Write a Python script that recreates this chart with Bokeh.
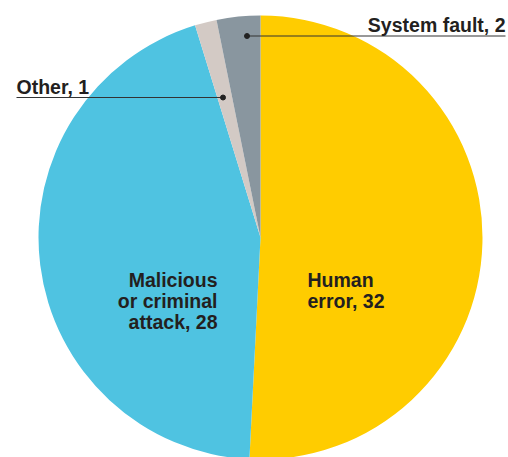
import math
from bokeh.plotting import figure
from bokeh.models import Range1d, ColumnDataSource
from bokeh.core.properties import value
from bokeh.embed import file_html
from bokeh.resources import INLINE

categories = ["Human error", "Malicious or criminal attack", "Other", "System fault"]
counts = [32, 28, 1, 2]
colors = ["#FFCC00", "#4FC3E1", "#D3CAC5", "#89969F"]

# figure maps data coordinates to page pixels (y negative downward)
W, H = 508, 457
p = figure(width=W, height=H, output_backend="svg", toolbar_location=None,
           x_range=Range1d(0, W), y_range=Range1d(-H, 0),
           min_border=0, outline_line_color=None)
p.axis.visible = False
p.grid.visible = False
p.background_fill_color = "white"
p.border_fill_color = "white"

cx, cy, r = 260, -237, 222
total = sum(counts)
starts, ends = [], []
a = math.pi / 2
for c in counts:
    sweep = 2 * math.pi * c / total
    starts.append(a)
    ends.append(a - sweep)
    a -= sweep

src = ColumnDataSource(dict(cat=categories, start=starts, end=ends, color=colors))
p.wedge(x=cx, y=cy, radius=r, start_angle="start", end_angle="end",
        direction="clock", fill_color="color", line_color=None, source=src)

font = value("Liberation Sans")
txt = "#231F20"

# Leader lines for small slices
p.segment(x0=[246.5, 16], y0=[-35.5, -97], x1=[505, 222.5], y1=[-35.5, -97],
          line_color="#333333", line_width=1.2)
p.scatter(x=[246.5, 222.5], y=[-35.5, -97], size=5, color="#222222")

small_labels = [f"{categories[3]}, {counts[3]}", f"{categories[2]}, {counts[2]}"]
p.text(x=[505], y=[-24.5], text=[small_labels[0]], text_font=font, text_font_style="bold",
       text_font_size="19.5px", text_align="right", text_baseline="alphabetic", text_color=txt)
p.text(x=[16], y=[-86], text=[small_labels[1]], text_font=font, text_font_style="bold",
       text_font_size="19.5px", text_align="left", text_baseline="alphabetic", text_color=txt)

big_left = ["Malicious", "or criminal", f"attack, {counts[1]}"]
big_right = ["Human", f"error, {counts[0]}"]
p.text(x=[217] * 3, y=[-279, -300, -321], text=big_left, text_font=font,
       text_font_style="bold", text_font_size="19.5px", text_align="right",
       text_baseline="alphabetic", text_color=txt)
p.text(x=[307] * 2, y=[-279, -300], text=big_right, text_font=font,
       text_font_style="bold", text_font_size="19.5px", text_align="left",
       text_baseline="alphabetic", text_color=txt)

open("out.html", "w").write(file_html(p, INLINE))
